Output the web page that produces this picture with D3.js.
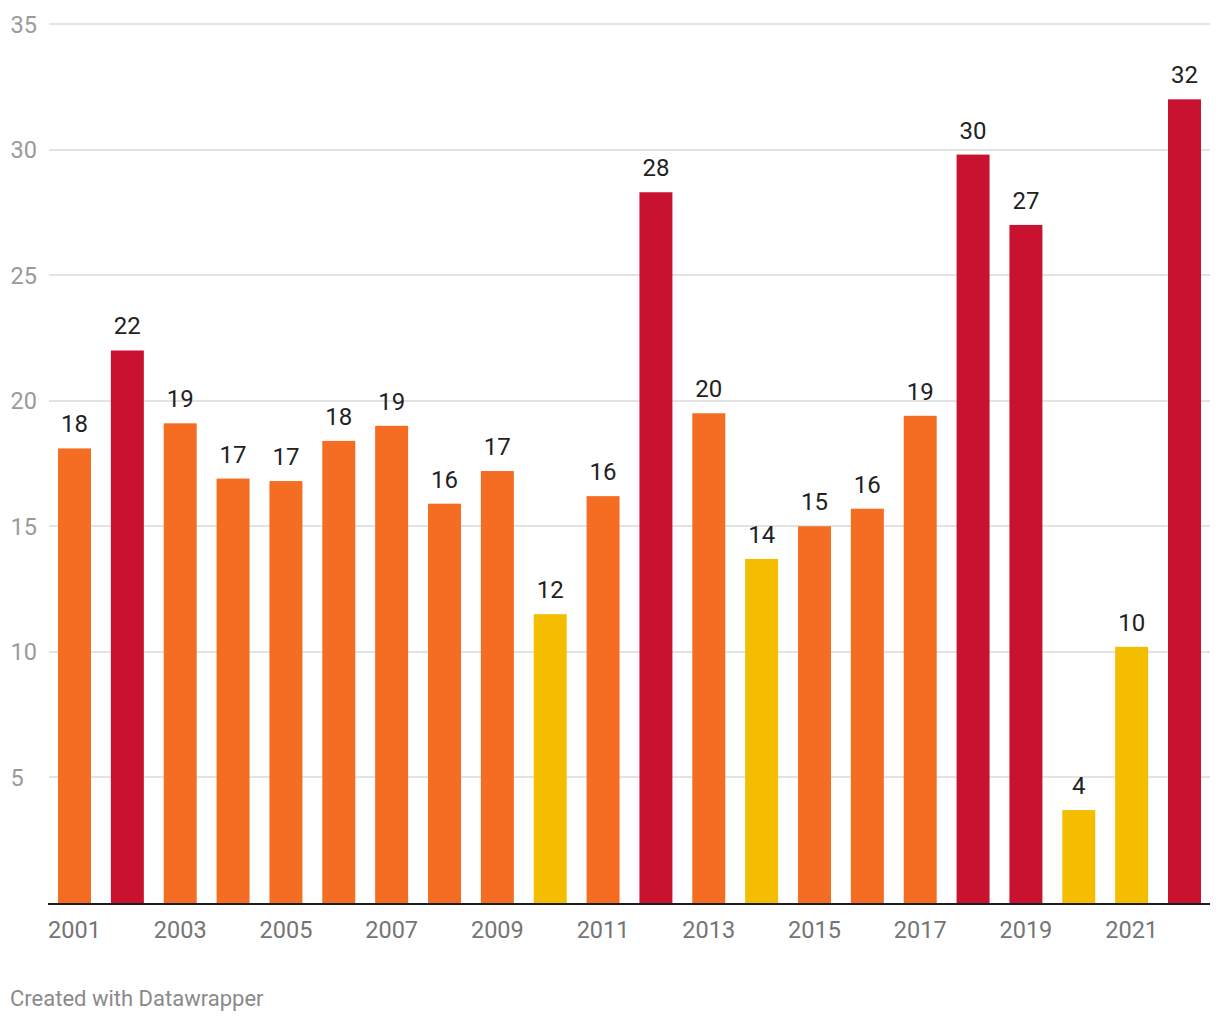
<!DOCTYPE html>
<html>
<head>
<meta charset="utf-8">
<script src="https://cdn.jsdelivr.net/npm/d3@7"></script>
<style>
  html, body { margin: 0; padding: 0; background: #ffffff; }
  svg { display: block; font-family: Roboto, "Noto Sans", sans-serif; }
</style>
</head>
<body>
<svg id="chart" width="1220" height="1020"></svg>
<script>
const years = ["2001","2002","2003","2004","2005","2006","2007","2008","2009","2010","2011","2012","2013","2014","2015","2016","2017","2018","2019","2020","2021","2022"];
const values = [18.1, 22.0, 19.1, 16.9, 16.8, 18.4, 19.0, 15.9, 17.2, 11.5, 16.2, 28.3, 19.5, 13.7, 15.0, 15.7, 19.4, 29.8, 27.0, 3.7, 10.2, 32.0];
const groups = ["mid","high","mid","mid","mid","mid","mid","mid","mid","low","mid","high","mid","low","mid","mid","mid","high","high","low","low","high"];
const groupColors = { high: "#c91130", mid: "#f46d22", low: "#f5bd00" };
const yTicks = [5, 10, 15, 20, 25, 30, 35];
const xTickLabels = ["2001","2003","2005","2007","2009","2011","2013","2015","2017","2019","2021"];
const footer = "Created with Datawrapper";

(function () {
const svg = d3.select("#chart");
const mLeft = 48, mRight = 1210, mTop = 24, mBottom = 903;

const x = d3.scaleBand().domain(years).range([mLeft + 0.5, mRight + 0.5]).paddingInner(0.376).paddingOuter(0.18);
const y = d3.scaleLinear().domain([0, 35]).range([mBottom, mTop]);

// gridlines
svg.append("g").selectAll("line").data(yTicks).join("line")
  .attr("x1", mLeft + 1).attr("x2", mRight)
  .attr("y1", d => Math.round(y(d))).attr("y2", d => Math.round(y(d)))
  .attr("stroke", "#e3e3e3").attr("stroke-width", 2);

// y labels
svg.append("g").selectAll("text").data(yTicks).join("text")
  .attr("x", 10.5).attr("y", d => y(d) + 8.5)
  .attr("fill", "#9a9a9a").attr("font-size", 23.5)
  .text(d => d);

// bars
svg.append("g").selectAll("rect").data(years).join("rect")
  .attr("x", d => x(d)).attr("width", x.bandwidth())
  .attr("y", (d, i) => y(values[i])).attr("height", (d, i) => y(0) - y(values[i]))
  .attr("fill", (d, i) => groupColors[groups[i]]);

// value labels
svg.append("g").selectAll("text").data(years).join("text")
  .attr("x", d => x(d) + x.bandwidth() / 2)
  .attr("y", (d, i) => y(values[i]) - 16)
  .attr("text-anchor", "middle").attr("fill", "#222222").attr("font-size", 24)
  .text((d, i) => Math.round(values[i]));

// x axis
const xAxis = d3.axisBottom(x).tickValues(xTickLabels).tickSize(0).tickPadding(0);
const gx = svg.append("g").attr("transform", `translate(0,${mBottom})`).call(xAxis);
gx.select(".domain").remove();
gx.selectAll("text").attr("font-size", 23.5).attr("fill", "#757575")
  .attr("font-family", "Roboto, 'Noto Sans', sans-serif").attr("dy", null).attr("y", 34.7);
svg.append("line").attr("x1", mLeft).attr("x2", mRight).attr("y1", mBottom + 1).attr("y2", mBottom + 1)
  .attr("stroke", "#1d1d1d").attr("stroke-width", 2);

// footer
svg.append("text").attr("x", 10).attr("y", 1006).attr("fill", "#8a8a8a").attr("font-size", 22)
  .text(footer);
})();
</script>
</body>
</html>
